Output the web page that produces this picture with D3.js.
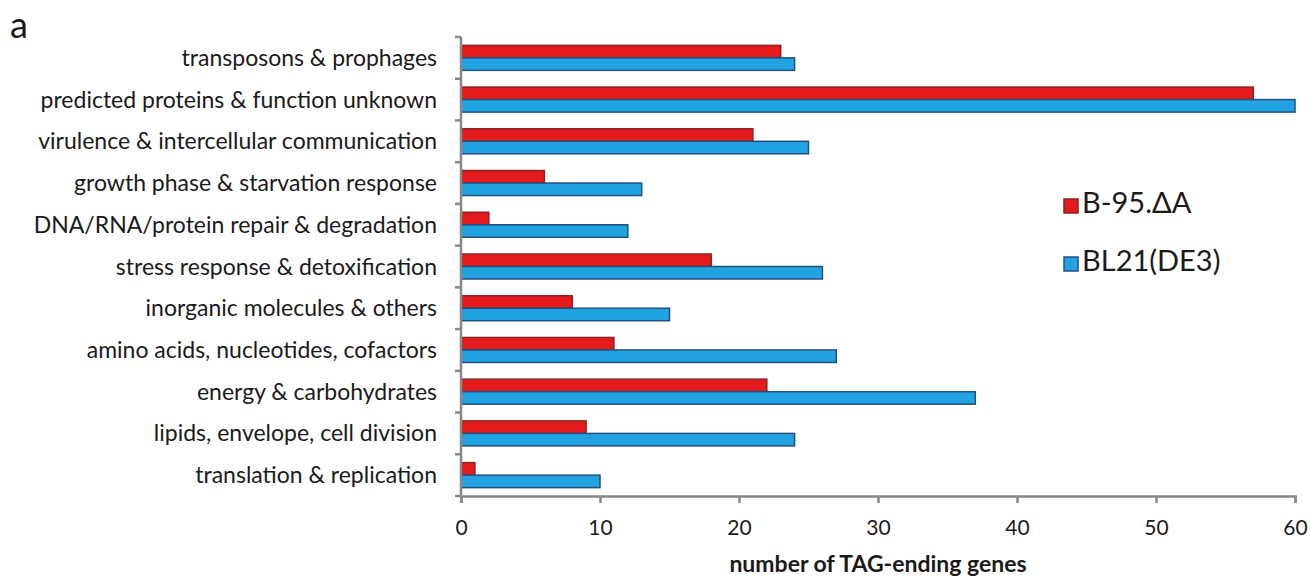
<!DOCTYPE html>
<html>
<head>
<meta charset="utf-8">
<script src="https://cdn.jsdelivr.net/npm/d3@7"></script>
<style>
  body { margin: 0; background: #fff; }
  svg { display: block; }
  text { font-family: Lato, "Open Sans", sans-serif; fill: #1a1a1a; }
</style>
</head>
<body>
<svg id="chart" width="1310" height="576"></svg>
<script>
const categories = [
  'transposons & prophages',
  'predicted proteins & function unknown',
  'virulence & intercellular communication',
  'growth phase & starvation response',
  'DNA/RNA/protein repair & degradation',
  'stress response & detoxification',
  'inorganic molecules & others',
  'amino acids, nucleotides, cofactors',
  'energy & carbohydrates',
  'lipids, envelope, cell division',
  'translation & replication'
];
const seriesNames = ['B-95.\u0394A', 'BL21(DE3)'];
const b95 = [23, 57, 21, 6, 2, 18, 8, 11, 22, 9, 1];
const bl21 = [24, 60, 25, 13, 12, 26, 15, 27, 37, 24, 10];
const xTicks = [0, 10, 20, 30, 40, 50, 60];

const fills = ['#e51a1d', '#20a3e0'];
const strokes = ['#8c2025', '#24507e'];
const axisColor = '#888888';

const svg = d3.select('#chart');
const plot = { left: 461, right: 1295, top: 37, bottom: 496 };

const x = d3.scaleLinear().domain([0, 60]).range([plot.left, plot.right]);
const y = d3.scaleBand().domain(categories).range([plot.top, plot.bottom]);
const inner = d3.scaleBand().domain(seriesNames).range([y.bandwidth() / 2 - 12.5, y.bandwidth() / 2 + 12.5]);

const rows = categories.map((c, i) => ({ cat: c, vals: [b95[i], bl21[i]] }));

const groups = svg.append('g')
  .selectAll('g')
  .data(rows)
  .join('g')
    .attr('transform', d => `translate(0,${y(d.cat)})`);

groups.selectAll('rect')
  .data(d => d.vals.map((v, k) => ({ v, k })))
  .join('rect')
    .attr('x', x(0))
    .attr('y', d => inner(seriesNames[d.k]))
    .attr('width', d => x(d.v) - x(0))
    .attr('height', inner.bandwidth())
    .attr('fill', d => fills[d.k])
    .attr('stroke', d => strokes[d.k])
    .attr('stroke-width', 1.5);

// y axis
const yAxis = svg.append('g')
  .attr('transform', `translate(${plot.left},0)`);
yAxis.append('line')
  .attr('y1', plot.top).attr('y2', plot.bottom)
  .attr('stroke', axisColor).attr('stroke-width', 2.5);
yAxis.selectAll('line.tick')
  .data(d3.range(categories.length + 1))
  .join('line')
    .attr('class', 'tick')
    .attr('x1', -6).attr('x2', 0)
    .attr('y1', i => plot.top + i * y.step())
    .attr('y2', i => plot.top + i * y.step())
    .attr('stroke', axisColor).attr('stroke-width', 2.5);
yAxis.selectAll('text')
  .data(categories)
  .join('text')
    .attr('x', -24)
    .attr('y', d => y(d) + y.bandwidth() / 2)
    .attr('dy', '0.35em')
    .attr('text-anchor', 'end')
    .attr('font-size', 23)
    .text(d => d);

// x axis
const xAxis = svg.append('g')
  .attr('transform', `translate(0,${plot.bottom})`)
  .call(d3.axisBottom(x).tickValues(xTicks).tickSize(7));
xAxis.select('.domain').attr('stroke', axisColor).attr('stroke-width', 2.5);
xAxis.selectAll('.tick line').attr('stroke', axisColor).attr('stroke-width', 2.5);
xAxis.selectAll('.tick text')
  .attr('y', 39)
  .attr('dy', 0)
  .attr('font-size', 21)
  .attr('font-family', 'Lato, sans-serif')
  .attr('fill', '#1a1a1a');

svg.append('text')
  .attr('x', (plot.left + plot.right) / 2)
  .attr('y', 572)
  .attr('text-anchor', 'middle')
  .attr('font-size', 23)
  .attr('font-weight', 'bold')
  .text('number of TAG-ending genes');

// panel letter
svg.append('text')
  .attr('x', 10)
  .attr('y', 38)
  .attr('font-size', 36)
  .attr('font-family', '"Liberation Sans", Arial, sans-serif')
  .text('a');

// legend
const legend = svg.append('g')
  .selectAll('g')
  .data(seriesNames)
  .join('g')
    .attr('transform', (d, i) => `translate(1064,${199 + i * 58})`);
legend.append('rect')
  .attr('width', 14).attr('height', 14)
  .attr('fill', (d, i) => fills[i])
  .attr('stroke', (d, i) => strokes[i])
  .attr('stroke-width', 1.5);
legend.append('text')
  .attr('x', 18)
  .attr('y', 14)
  .attr('font-size', 29)
  .text(d => d);
</script>
</body>
</html>
